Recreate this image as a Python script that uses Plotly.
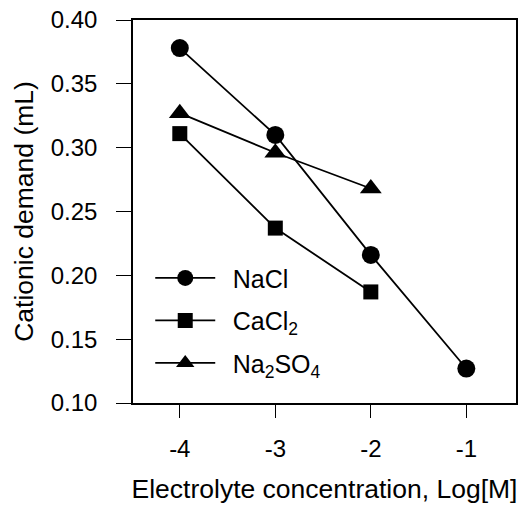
import plotly.graph_objects as go

x_vals = [-4, -3, -2, -1]
nacl = [0.378, 0.310, 0.216, 0.127]
cacl2 = [0.311, 0.237, 0.187]
na2so4 = [0.327, 0.296, 0.268]
names = ["\u2002NaCl", "\u2002CaCl<sub>2</sub>", "\u2002Na<sub>2</sub>SO<sub>4</sub>"]
y_ticks = [0.10, 0.15, 0.20, 0.25, 0.30, 0.35, 0.40]
x_ticks = [-4, -3, -2, -1]

FONT = "Liberation Sans, Arial, sans-serif"

fig = go.Figure()
series = [(nacl, "circle", 18), (cacl2, "square", 15), (na2so4, "triangle-up", 19)]
for i, (ys, sym, sz) in enumerate(series):
    fig.add_trace(go.Scatter(
        x=x_vals[:len(ys)], y=ys, mode="lines+markers", name=names[i],
        legendgroup=f"g{i}",
        line=dict(color="black", width=1.8),
        marker=dict(symbol=sym, size=sz, color="black"),
    ))

fig.update_layout(
    width=521, height=508,
    margin=dict(l=133, r=3, t=20, b=105),
    paper_bgcolor="white", plot_bgcolor="white",
    font=dict(family=FONT, color="black", size=22),
    legend=dict(x=0.045, y=0.386, xanchor="left", yanchor="top",
                bgcolor="rgba(0,0,0,0)", font=dict(size=25, family=FONT),
                itemwidth=60, tracegroupgap=7),
    xaxis=dict(range=[-4.49, -0.48], tickvals=x_ticks, ticktext=[str(v) for v in x_ticks],
               showgrid=False, zeroline=False, showline=True, linecolor="black", linewidth=1.6,
               mirror=True, ticks="outside", ticklen=13, tickwidth=1.3, tickcolor="black",
               tickfont=dict(size=24), ticklabelstandoff=10,
               title=dict(text="Electrolyte concentration, Log[M]", font=dict(size=26.5), standoff=19)),
    yaxis=dict(range=[0.10, 0.40], tickvals=y_ticks, ticktext=[f"{v:.2f}" for v in y_ticks],
               showgrid=False, zeroline=False, showline=True, linecolor="black", linewidth=1.6,
               mirror=True, ticks="outside", ticklen=15, tickwidth=1.3, tickcolor="black",
               tickfont=dict(size=24), ticklabelstandoff=14,
               title=dict(text="Cationic demand (mL)", font=dict(size=26.5), standoff=9)),
)

fig.write_html("out.html")
